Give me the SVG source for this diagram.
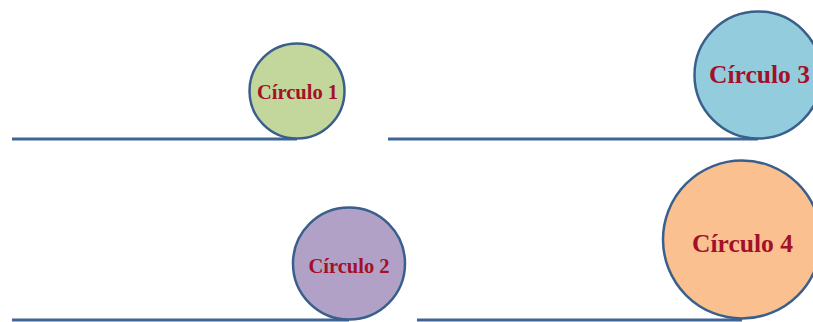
<svg xmlns="http://www.w3.org/2000/svg" width="813" height="322" viewBox="0 0 813 322">
  <style>
    .ground { stroke: #3F6496; stroke-width: 3; fill: none; }
    .disc { stroke: #3A5F8C; stroke-width: 2.5; }
    .label { font-family: "Liberation Serif", "DejaVu Serif", serif; font-weight: bold; fill: #A3102A; text-anchor: middle; }
  </style>
  <rect width="813" height="322" fill="#FFFFFF"/>
  <g id="connectors">
    <line class="ground" x1="12" y1="139" x2="297" y2="139"/>
    <line class="ground" x1="388" y1="139" x2="758" y2="139"/>
    <line class="ground" x1="12" y1="320" x2="349" y2="320"/>
    <line class="ground" x1="417" y1="320" x2="742" y2="320"/>
  </g>
  <g id="circulo1">
    <circle class="disc" cx="297" cy="91" r="47.5" fill="#C3D69B"/>
    <text class="label" x="297.5" y="99" font-size="20.5">Círculo 1</text>
  </g>
  <g id="circulo2">
    <circle class="disc" cx="349" cy="263.5" r="56" fill="#B2A1C7"/>
    <text class="label" x="349" y="273" font-size="20.5">Círculo 2</text>
  </g>
  <g id="circulo3">
    <circle class="disc" cx="758" cy="75" r="63.5" fill="#93CDDD"/>
    <text class="label" x="759.5" y="83" font-size="25.5">Círculo 3</text>
  </g>
  <g id="circulo4">
    <circle class="disc" cx="742" cy="239.5" r="79" fill="#FAC090"/>
    <text class="label" x="742.5" y="252" font-size="25.5">Círculo 4</text>
  </g>
</svg>
